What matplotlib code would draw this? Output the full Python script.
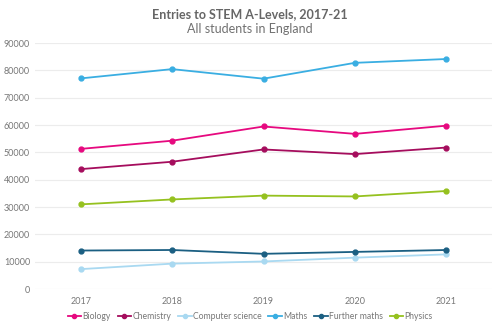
import matplotlib.pyplot as plt

plt.rcParams['font.family'] = ['Lato', 'DejaVu Sans']

years = [2017, 2018, 2019, 2020, 2021]
biology = [51300, 54300, 59500, 56800, 59800]
chemistry = [43900, 46600, 51100, 49400, 51800]
computer_science = [7300, 9300, 10100, 11500, 12700]
maths = [77100, 80500, 77000, 82800, 84200]
further_maths = [14100, 14300, 12900, 13600, 14300]
physics = [31000, 32800, 34200, 33900, 35900]

series = [
    ("Biology", biology, "#e6097f"),
    ("Chemistry", chemistry, "#a50d5d"),
    ("Computer science", computer_science, "#a9d9f1"),
    ("Maths", maths, "#3aaee2"),
    ("Further maths", further_maths, "#1b5f82"),
    ("Physics", physics, "#95c11f"),
]

fig = plt.figure(figsize=(5, 3.27), dpi=100)
ax = fig.add_axes([0.07, 0.116, 0.914, 0.752])

for name, vals, col in series:
    ax.plot(years, vals, color=col, lw=1.3, marker="o", ms=3.5, label=name)

ax.set_xlim(2016.5, 2021.5)
ax.set_ylim(0, 90000)
ax.set_yticks(range(0, 90001, 10000))
ax.set_xticks(years)
ax.grid(axis="y", color="#ececec", lw=0.8)
ax.set_axisbelow(True)
for s in ax.spines.values():
    s.set_visible(False)
ax.tick_params(length=0, labelsize=6.5, colors="#777777")
ax.tick_params(axis="x", pad=6)

fig.text(0.5, 0.945, "Entries to STEM A-Levels, 2017-21", ha="center",
         fontsize=9, fontweight="bold", color="#666666")
fig.text(0.5, 0.9, "All students in England", ha="center",
         fontsize=9, color="#707070")

fig.legend(loc="center", bbox_to_anchor=(0.5, 0.033), ncol=6, frameon=False,
           fontsize=6.2, labelcolor="#777777", handlelength=1.6,
           handletextpad=0.1, columnspacing=0.8, markerscale=0.85)

fig.savefig("out.png", dpi=100)
